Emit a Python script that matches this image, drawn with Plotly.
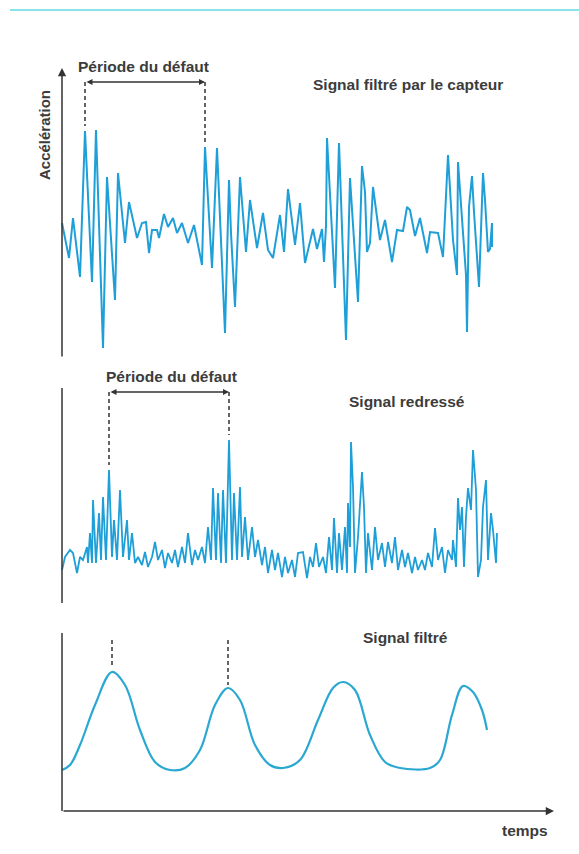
import plotly.graph_objects as go

# ---------------- data (time in px-like units, amplitude arbitrary) ----------------
t_capteur = [0, 7, 11, 18, 23, 30, 34, 41, 45, 53, 56, 63, 67, 75, 80, 84, 87, 90, 95, 97,
             102, 106, 111, 115, 120, 126, 132, 140, 143, 150, 155, 163, 167, 169, 173, 178,
             184, 188, 195, 201, 206, 211, 218, 222, 226, 233, 238, 243, 251, 255, 260, 262,
             264, 265, 273, 277, 284, 288, 296, 300, 303, 305, 308, 311, 318, 323, 330, 335,
             341, 345, 348, 353, 358, 365, 368, 376, 381, 386, 391, 395, 396, 404, 405, 407,
             410, 412, 417, 421, 423, 426, 428, 430, 430]
a_capteur = [7, -28, 12, -47, 99, -52, 100, -118, 53, -70, 57, -13, 28, -8, 7, 8, -23, 0, 0, -8,
             16, 3, 12, -3, 7, -13, 5, -35, 83, -38, 82, -103, 50, -3, -77, 53,
             -22, 30, -18, 17, -20, -28, 15, -22, 41, -15, 27, -33, 1, -19, 1, -32,
             4, 92, -58, 87, -110, 52, -72, 64, 38, -22, -13, 43, -10, 10, -32, 0,
             -1, 23, 20, -6, 12, -23, -2, -3, -27, 75, -10, -45, 68, -45, -102, 23,
             54, 18, -57, 57, 30, -22, -19, 7, -17]

t_redresse = [0, 3, 8, 11, 15, 18, 21, 25, 26, 28, 30, 31, 34, 37, 39, 41, 44, 47, 50, 52,
              55, 58, 61, 65, 67, 70, 73, 76, 80, 83, 86, 90, 93, 96, 100, 103, 106, 110,
              113, 116, 120, 123, 126, 130, 133, 136, 140, 143, 146, 149, 151, 154, 156,
              159, 161, 164, 167, 170, 172, 175, 178, 180, 183, 186, 190, 193, 196, 200,
              203, 206, 210, 213, 216, 220, 223, 226, 230, 233, 236, 241, 245, 248, 251,
              254, 257, 261, 264, 267, 270, 272, 275, 277, 280, 283, 285, 286, 288, 289,
              291, 293, 296, 300, 302, 304, 306, 310, 313, 316, 320, 323, 326, 330, 333,
              336, 340, 343, 346, 350, 353, 356, 360, 363, 366, 370, 373, 376, 380, 383,
              386, 390, 391, 394, 396, 398, 400, 402, 404, 406, 409, 411, 414, 416, 419,
              421, 424, 426, 429, 431, 434, 435]
a_redresse = [10, 23, 30, 27, 7, 23, 20, 33, 17, 47, 17, 80, 17, 67, 20, 83, 20, 110, 23, 60,
              20, 90, 23, 60, 20, 47, 17, 23, 15, 28, 13, 23, 38, 20, 30, 12, 27, 17,
              30, 13, 33, 17, 47, 15, 30, 20, 33, 17, 53, 20, 92, 20, 87,
              17, 90, 17, 140, 20, 87, 20, 93, 23, 63, 20, 53, 23, 40, 15,
              33, 7, 30, 10, 27, 3, 23, 7, 20, 3, 27, 28, 2, 23, 13,
              37, 13, 23, 7, 43, 10, 62, 7, 47, 10, 53, 7, 77, 33, 138,
              93, 7, 43, 108, 73, 7, 47, 10, 53, 20, 37, 13, 38, 17, 43,
              10, 30, 13, 27, 7, 23, 10, 20, 10, 27, 13, 52, 20, 33, 7,
              30, 20, 40, 13, 82, 50, 73, 13, 63, 92, 70, 130, 90, 3, 20,
              73, 100, 20, 67, 50, 17, 47]

t_filtre = [0, 8, 18, 33, 50, 63, 78, 93, 108, 123, 138, 153, 166, 178, 193, 208, 221, 238,
            256, 271, 281, 293, 308, 323, 338, 368, 378, 390, 401, 411, 420, 425]
a_filtre = [41, 46, 66, 106, 139, 126, 81, 49, 41, 43, 61, 106, 123, 111, 66, 46, 43, 51,
            91, 123, 129, 121, 76, 49, 43, 43, 51, 96, 125, 119, 101, 81]

titles = ["Signal filtré par le capteur", "Signal redressé", "Signal filtré"]
period_label = "Période du défaut"
y_label = "Accélération"
x_label = "temps"

# defect events (time) per panel
defauts_1 = [23, 143]
defauts_2 = [47, 167]
defauts_3 = [50, 166]

# ---------------- style ----------------
W, H = 579, 854
BLUE = "#1f9fd8"
BLUE3 = "#2aa8d2"
INK = "#333333"
TXT = "#3c3c3c"
FONT = "Liberation Sans"

def dom(top_px, bot_px):
    return [1 - bot_px / H, 1 - top_px / H]

fig = go.Figure()
fig.add_trace(go.Scatter(x=t_capteur, y=a_capteur, mode="lines", xaxis="x", yaxis="y",
                         line=dict(color=BLUE, width=2), hoverinfo="skip"))
fig.add_trace(go.Scatter(x=t_redresse, y=a_redresse, mode="lines", xaxis="x2", yaxis="y2",
                         line=dict(color=BLUE, width=1.8), hoverinfo="skip"))
fig.add_trace(go.Scatter(x=t_filtre, y=a_filtre, mode="lines", xaxis="x3", yaxis="y3",
                         line=dict(color=BLUE3, width=2.2, shape="spline", smoothing=1.0),
                         hoverinfo="skip"))

xr = [-62, W - 62]
xcommon = dict(range=xr, domain=[0, 1], visible=False, fixedrange=True)
fig.update_layout(
    width=W, height=H, margin=dict(l=0, r=0, t=0, b=0),
    paper_bgcolor="white", plot_bgcolor="rgba(0,0,0,0)", showlegend=False,
    xaxis=dict(**xcommon, anchor="y"),
    xaxis2=dict(**xcommon, anchor="y2"),
    xaxis3=dict(**xcommon, anchor="y3"),
    yaxis=dict(range=[-130, 170], domain=dom(60, 360), visible=False, anchor="x"),
    yaxis2=dict(range=[-30, 215], domain=dom(365, 610), visible=False, anchor="x2"),
    yaxis3=dict(range=[-36, 196], domain=dom(615, 847), visible=False, anchor="x3"),
    font=dict(family=FONT, color=TXT, size=15),
)

shapes = []
annots = []

# top cyan rule
shapes.append(dict(type="line", xref="paper", yref="paper", x0=10 / W, x1=1,
                   y0=1 - 10 / H, y1=1 - 10 / H, line=dict(color="#86e4ea", width=2)))

def arrow(xref, yref, x, y, ax, ay, both=False, size=1.0):
    annots.append(dict(xref=xref, yref=yref, axref=xref, ayref=yref, x=x, y=y, ax=ax, ay=ay,
                       text="", showarrow=True, arrowhead=2, arrowsize=size, arrowwidth=1.5,
                       arrowcolor=INK, arrowside="end+start" if both else "end", standoff=0,
                       startstandoff=0))

def vline(xref, yref, x, y0, y1, dash=None, width=1.6):
    shapes.append(dict(type="line", xref=xref, yref=yref, x0=x, x1=x, y0=y0, y1=y1,
                       line=dict(color=INK, width=width, dash=dash)))

def text(xref, yref, x, y, s, angle=0, size=15):
    annots.append(dict(xref=xref, yref=yref, x=x, y=y, text="<b>" + s + "</b>",
                       showarrow=False, textangle=angle,
                       font=dict(size=size, color=TXT, family=FONT),
                       xanchor="center", yanchor="middle"))

# ---- panel 1 ----
arrow("x", "y", 0, 162, 0, -128, size=1.1)
text("x", "y", -17, 95, y_label, angle=-90, size=15)
lvl1 = 148
for d, top in zip(defauts_1, [104, 87]):
    vline("x", "y", d, lvl1, top, dash="4px,3px", width=1.5)
arrow("x", "y", defauts_1[1], lvl1, defauts_1[0], lvl1, both=True, size=0.8)
text("x", "y", (defauts_1[0] + defauts_1[1]) / 2 - 2, 163, period_label, size=15.5)
text("x", "y", 346, 145, titles[0], size=15.5)

# ---- panel 2 ----
vline("x2", "y2", 0, -23, 192, width=1.5)
lvl2 = 188
for d, top in zip(defauts_2, [115, 145]):
    vline("x2", "y2", d, lvl2, top, dash="4px,3px", width=1.5)
arrow("x2", "y2", defauts_2[1], lvl2, defauts_2[0], lvl2, both=True, size=0.8)
text("x2", "y2", (defauts_2[0] + defauts_2[1]) / 2 + 2, 203, period_label, size=15.5)
text("x2", "y2", 345, 178, titles[1], size=15.5)

# ---- panel 3 ----
vline("x3", "y3", 0, 0, 178, width=1.5)
arrow("x3", "y3", 492, 0, 0, 0, size=1.1)
for d, top in zip(defauts_3, [143, 126]):
    vline("x3", "y3", d, 171, top, dash="4px,3px", width=1.5)
text("x3", "y3", 343, 174, titles[2], size=15.5)
text("x3", "y3", 463, -19, x_label, size=15.5)

fig.update_layout(shapes=shapes, annotations=annots)
fig.write_html("out.html", config={"displayModeBar": False})
